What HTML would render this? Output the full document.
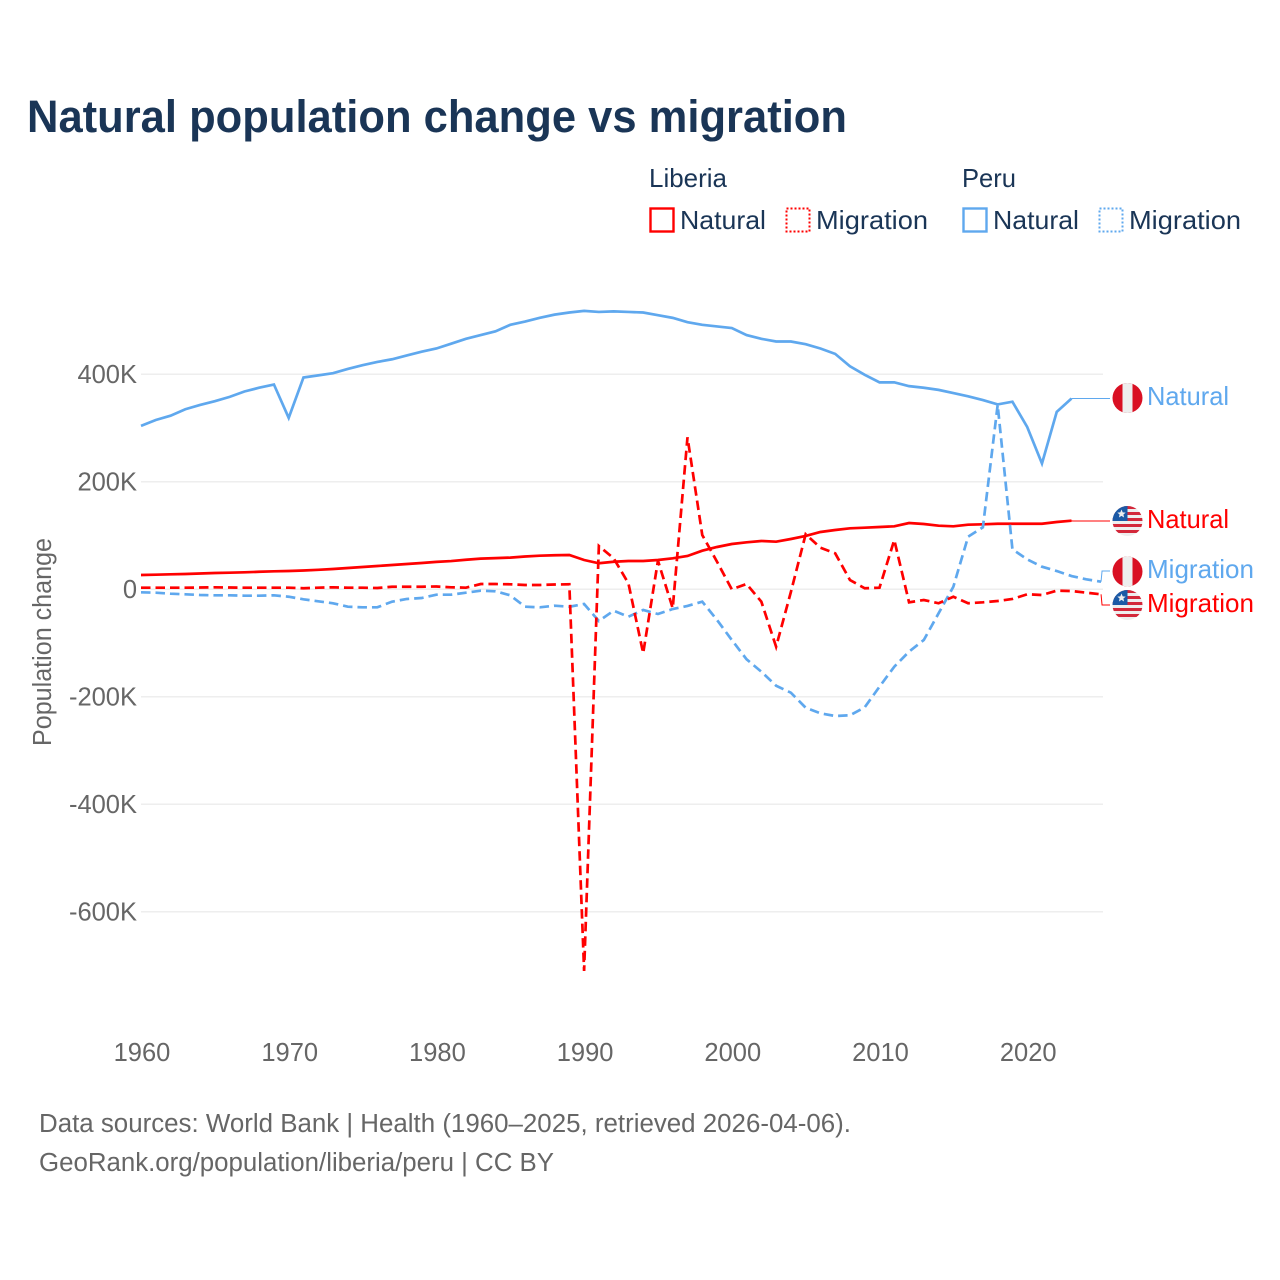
<!DOCTYPE html>
<html lang="en">
<head>
<meta charset="utf-8">
<title>Natural population change vs migration</title>
<style>
  html, body { margin: 0; padding: 0; background: #ffffff; }
  svg { display: block; font-family: "Liberation Sans", sans-serif; }
</style>
</head>
<body>
<svg id="chart" xmlns="http://www.w3.org/2000/svg" width="1280" height="1280" viewBox="0 0 1280 1280">
  <rect x="0" y="0" width="1280" height="1280" fill="#ffffff"/>
  <text x="27" y="132" font-size="45" font-weight="700" fill="#1a3556" textLength="820" lengthAdjust="spacingAndGlyphs">Natural population change vs migration</text>

  <g font-size="26" fill="#1a3556">
    <text x="649" y="187" textLength="78" lengthAdjust="spacingAndGlyphs">Liberia</text>
    <text x="962" y="187" textLength="54" lengthAdjust="spacingAndGlyphs">Peru</text>

    <rect x="650.5" y="208.5" width="23" height="23" fill="none" stroke="#ff0000" stroke-width="2.4"/>
    <text x="680" y="229" textLength="86" lengthAdjust="spacingAndGlyphs">Natural</text>
    <rect x="786.5" y="208.5" width="23" height="23" fill="none" stroke="#ff0000" stroke-width="2" stroke-dasharray="2 2"/>
    <text x="816" y="229" textLength="112" lengthAdjust="spacingAndGlyphs">Migration</text>

    <rect x="963.5" y="208.5" width="23" height="23" fill="none" stroke="#5fa8ee" stroke-width="2.4"/>
    <text x="993" y="229" textLength="86" lengthAdjust="spacingAndGlyphs">Natural</text>
    <rect x="1099.5" y="208.5" width="23" height="23" fill="none" stroke="#5fa8ee" stroke-width="2" stroke-dasharray="2 2"/>
    <text x="1129" y="229" textLength="112" lengthAdjust="spacingAndGlyphs">Migration</text>
  </g>

  <g id="grid"></g>
  <g id="yticks"></g>
  <g id="xticks"></g>
  <text transform="translate(51,746) rotate(-90)" x="0" y="0" font-size="25.5" fill="#666666" textLength="208" lengthAdjust="spacingAndGlyphs">Population change</text>

  <g id="series"></g>
  <g id="leaders"></g>

  <defs>
    <clipPath id="flag-clip"><circle cx="0" cy="0" r="15"/></clipPath>
  </defs>

  <g>
    <g transform="translate(1127.5,398)" clip-path="url(#flag-clip)">
      <rect x="-15" y="-15" width="30" height="30" fill="#d91023"/><rect x="-5" y="-15" width="10" height="30" fill="#eeeeee"/>
    </g>
    <text x="1147" y="405" font-size="26" fill="#5fa8ee" textLength="82" lengthAdjust="spacingAndGlyphs">Natural</text>
  </g>
  <g>
    <g transform="translate(1127.5,521)" clip-path="url(#flag-clip)">
      <rect x="-15" y="-15" width="30" height="30" fill="#eeeeee"/>
      <path d="M-15-15h30v3h-30zM-15-9h30v3h-30zM-15-3h30v3h-30zM-15 3h30v3h-30zM-15 9h30v3h-30z" fill="#d3283a"/>
      <rect x="-15" y="-15" width="15" height="15" fill="#1b5aa6"/>
      <polygon points="-6,-11.5 -4.8,-8.6 -1.8,-8.4 -4.1,-6.5 -3.4,-3.5 -6,-5.1 -8.6,-3.5 -7.9,-6.5 -10.2,-8.4 -7.2,-8.6" fill="#eeeeee"/>
    </g>
    <text x="1147" y="528" font-size="26" fill="#ff0000" textLength="82" lengthAdjust="spacingAndGlyphs">Natural</text>
  </g>
  <g>
    <g transform="translate(1127.5,571.5)" clip-path="url(#flag-clip)">
      <rect x="-15" y="-15" width="30" height="30" fill="#d91023"/><rect x="-5" y="-15" width="10" height="30" fill="#eeeeee"/>
    </g>
    <text x="1147" y="578" font-size="26" fill="#5fa8ee" textLength="107" lengthAdjust="spacingAndGlyphs">Migration</text>
  </g>
  <g>
    <g transform="translate(1127.5,605)" clip-path="url(#flag-clip)">
      <rect x="-15" y="-15" width="30" height="30" fill="#eeeeee"/>
      <path d="M-15-15h30v3h-30zM-15-9h30v3h-30zM-15-3h30v3h-30zM-15 3h30v3h-30zM-15 9h30v3h-30z" fill="#d3283a"/>
      <rect x="-15" y="-15" width="15" height="15" fill="#1b5aa6"/>
      <polygon points="-6,-11.5 -4.8,-8.6 -1.8,-8.4 -4.1,-6.5 -3.4,-3.5 -6,-5.1 -8.6,-3.5 -7.9,-6.5 -10.2,-8.4 -7.2,-8.6" fill="#eeeeee"/>
    </g>
    <text x="1147" y="612" font-size="26" fill="#ff0000" textLength="107" lengthAdjust="spacingAndGlyphs">Migration</text>
  </g>

  <text x="39" y="1132" font-size="25.5" fill="#666666" textLength="812" lengthAdjust="spacingAndGlyphs">Data sources: World Bank | Health (1960–2025, retrieved 2026-04-06).</text>
  <text x="39" y="1171" font-size="25.5" fill="#666666" textLength="515" lengthAdjust="spacingAndGlyphs">GeoRank.org/population/liberia/peru | CC BY</text>
</svg>

<script>
const startYear = 1960;
const xTickYears = [1960, 1970, 1980, 1990, 2000, 2010, 2020];
const yTickValues = [400, 200, 0, -200, -400, -600];
const yTickLabels = ["400K", "200K", "0", "-200K", "-400K", "-600K"];

// All series are in thousands of people, one value per year from 1960.
const peruNatural = [
  304, 315, 323, 335, 343, 350, 358, 368, 375, 381,
  319, 394, 398, 402, 410, 417, 423, 428, 435, 442,
  448, 457, 466, 473, 480, 492, 498, 505, 511, 515,
  518, 516, 517, 516, 515, 510, 505, 497, 492, 489,
  486, 473, 466, 461, 461, 456, 448, 438, 415, 399,
  385, 385, 378, 375, 371, 365, 359, 352, 344, 349,
  302, 234, 330, 355
];
const peruMigration = [
  -5.6, -6.3, -8.2, -9.3, -10.6, -11.2, -11.2, -11.9, -11.9, -11.2,
  -13.8, -18.6, -22.3, -26, -32.4, -33.5, -33.5, -23, -18, -16.2,
  -10, -10, -6.3, -2.6, -3.7, -11.2, -32.4, -33.5, -30.5, -32.4,
  -27.3, -59, -39.8, -51, -38.5, -46, -36.7, -31, -23, -57.1,
  -94.3, -130.2, -153.3, -179.4, -192.4, -220.3, -230.7, -235.7, -234.4, -219.5,
  -181.2, -144, -116, -94.3, -44.7, 4.8, 97.9, 115.4, 342.9, 74.4,
  55.8, 42, 34, 24.7, 18.6, 14.1
];
const liberiaNatural = [
  26.6, 27.2, 27.9, 28.5, 29.4, 30.3, 30.9, 31.6, 32.6, 33.5,
  34, 35, 36.3, 37.8, 39.6, 41.5, 43.3, 45.2, 47.1, 48.9,
  51, 52.5, 55, 57, 58, 59, 61, 62.5, 63.3, 63.8,
  54.5, 48.4, 51.3, 52.7, 52.7, 54.5, 57.7, 62, 71.8, 78.7,
  84.3, 87.4, 89.9, 88.6, 93.6, 99.2, 106.6, 110.3, 113.5, 114.6,
  115.9, 117.2, 123.3, 121.5, 118.3, 117.2, 120.2, 120.9, 122, 122,
  122, 122, 125.2, 127.6
];
const liberiaMigration = [
  3, 3, 3, 3, 3.3, 3.7, 3.3, 3, 3, 3,
  3, 1.9, 3, 3.7, 3, 3, 2.4, 4.8, 4.8, 4.8,
  5.2, 3.7, 3, 9.8, 9.8, 9.3, 8, 8, 8.9, 9.3,
  -710, 80.6, 57.7, 11.2, -119, 53.2, -35.3, 282.8, 101, 51.3,
  0, 9.9, -23, -106.8, -5, 102.3, 77.4, 67, 17.3, 1.9,
  3, 91.7, -24.2, -19.9, -26, -13.8, -26, -24.2, -21.8, -18,
  -9.3, -10.6, -2.6, -3.2, -6.3, -9.3
];

const SVG_NS = "http://www.w3.org/2000/svg";
const GRID_LEFT = 141;
const GRID_RIGHT = 1103;
const RED = "#ff0000";
const BLUE = "#5fa8ee";

function xScale(year) {
  return 141 + (year - 1960) * 14.77;
}
function yScale(value) {
  return 589.3 - value * 0.5375;
}
function linePath(values) {
  return values.map(function (v, i) {
    return (i === 0 ? "M" : "L") + xScale(startYear + i).toFixed(2) + " " + yScale(v).toFixed(2);
  }).join("");
}
function make(tag, attrs, parent) {
  const el = document.createElementNS(SVG_NS, tag);
  Object.keys(attrs).forEach(function (k) { el.setAttribute(k, attrs[k]); });
  parent.appendChild(el);
  return el;
}

const gridGroup = document.getElementById("grid");
const yTickGroup = document.getElementById("yticks");
const xTickGroup = document.getElementById("xticks");
const seriesGroup = document.getElementById("series");
const leaderGroup = document.getElementById("leaders");

yTickValues.forEach(function (value, i) {
  const y = yScale(value);
  const line = make("line", { x1: GRID_LEFT, x2: GRID_RIGHT, y1: y, y2: y, stroke: "#eeeeee", "stroke-width": 1.5 }, gridGroup);
  
  
  const label = make("text", { x: 137, y: y + 8.7, "text-anchor": "end", "font-size": 25.5, fill: "#666666" }, yTickGroup);
  label.textContent = yTickLabels[i];
  
  
});

xTickYears.forEach(function (year) {
  const label = make("text", { x: xScale(year) + 1, y: 1061, "text-anchor": "middle", "font-size": 25.5, fill: "#666666" }, xTickGroup);
  label.textContent = String(year);
  
  
});

function drawSeries(values, color, dashed, name) {
  const attrs = { d: linePath(values), fill: "none", stroke: color, "stroke-width": 2.7, "stroke-linejoin": "miter" };
  if (dashed) { attrs["stroke-dasharray"] = "9.5 5"; }
  const path = make("path", attrs, seriesGroup);
  
  
}
drawSeries(peruNatural, BLUE, false, "line-peru-natural");
drawSeries(liberiaNatural, RED, false, "line-liberia-natural");
drawSeries(peruMigration, BLUE, true, "line-peru-migration");
drawSeries(liberiaMigration, RED, true, "line-liberia-migration");

function drawLeader(values, color, labelY, name) {
  const lastIndex = values.length - 1;
  const x = xScale(startYear + lastIndex);
  const y = yScale(values[lastIndex]);
  const d = "M" + x.toFixed(2) + " " + y.toFixed(2) + "L" + (x + 1).toFixed(2) + " " + labelY + "L1110 " + labelY;
  const path = make("path", { d: d, fill: "none", stroke: color, "stroke-width": 1 }, leaderGroup);
  
  
}
drawLeader(peruNatural, BLUE, 398.5, "leader-peru-natural");
drawLeader(liberiaNatural, RED, 521, "leader-liberia-natural");
drawLeader(peruMigration, BLUE, 571, "leader-peru-migration");
drawLeader(liberiaMigration, RED, 605, "leader-liberia-migration");
</script>
</body>
</html>
